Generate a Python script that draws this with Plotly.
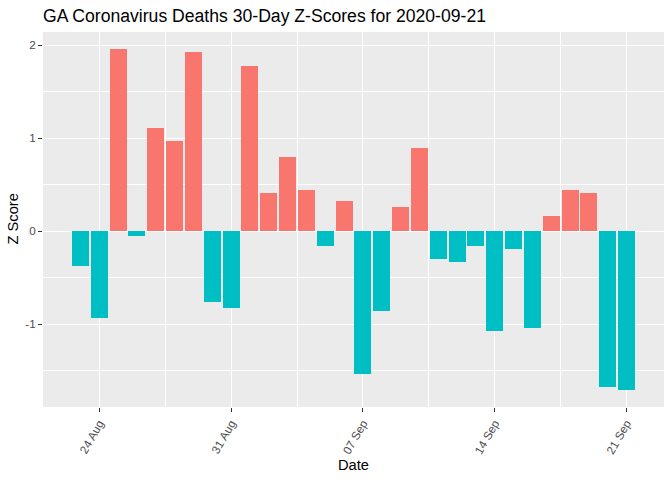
import plotly.graph_objects as go

dates = ["2020-08-23", "2020-08-24", "2020-08-25", "2020-08-26", "2020-08-27",
         "2020-08-28", "2020-08-29", "2020-08-30", "2020-08-31", "2020-09-01",
         "2020-09-02", "2020-09-03", "2020-09-04", "2020-09-05", "2020-09-06",
         "2020-09-07", "2020-09-08", "2020-09-09", "2020-09-10", "2020-09-11",
         "2020-09-12", "2020-09-13", "2020-09-14", "2020-09-15", "2020-09-16",
         "2020-09-17", "2020-09-18", "2020-09-19", "2020-09-20", "2020-09-21"]
z_scores = [-0.37, -0.93, 1.96, -0.05, 1.11,
            0.97, 1.93, -0.76, -0.83, 1.78,
            0.41, 0.80, 0.44, -0.16, 0.33,
            -1.54, -0.86, 0.26, 0.89, -0.30,
            -0.33, -0.16, -1.07, -0.19, -1.04,
            0.16, 0.44, 0.41, -1.68, -1.71]
tick_dates = ["2020-08-24", "2020-08-31", "2020-09-07", "2020-09-14", "2020-09-21"]
tick_labels = ["24 Aug", "31 Aug", "07 Sep", "14 Sep", "21 Sep"]
y_ticks = [-1, 0, 1, 2]
y_tick_labels = ["-1", "0", "1", "2"]

POS = "#F8766D"
NEG = "#00BFC4"
DAY = 86400000

colors = [POS if v > 0 else NEG for v in z_scores]

W, H = 672, 480
ML, MR, MT, MB = 43, 8, 32, 73
PW, PH = W - ML - MR, H - MT - MB

fig = go.Figure()
fig.add_trace(go.Bar(x=dates, y=z_scores, marker=dict(color=colors, line=dict(width=0)),
                     width=[0.9 * DAY] * len(dates), showlegend=False))

fig.update_layout(
    width=W, height=H,
    margin=dict(l=ML, r=MR, t=MT, b=MB, autoexpand=False),
    paper_bgcolor="white", plot_bgcolor="#EBEBEB",
    font=dict(family="Liberation Sans, Arial, sans-serif", color="black"),
    title=dict(text="GA Coronavirus Deaths 30-Day Z-Scores for 2020-09-21",
               x=ML / W, xref="container", xanchor="left",
               y=1 - 16 / H, yref="container", yanchor="middle",
               font=dict(size=17.6, color="black")),
    bargap=0,
    showlegend=False,
    annotations=[
        dict(text="Date", xref="paper", yref="paper", x=0.5, y=(H - MB - 465) / PH,
             xanchor="center", yanchor="middle", showarrow=False,
             font=dict(size=14.7, color="black")),
        dict(text="Z Score", xref="paper", yref="paper", x=(12 - ML) / PW, y=0.5,
             xanchor="center", yanchor="middle", showarrow=False, textangle=-90,
             font=dict(size=14.7, color="black")),
    ],
)
fig.update_xaxes(
    type="date", range=["2020-08-21 00:15", "2020-09-22 23:45"],
    tickvals=tick_dates, ticktext=tick_labels, tickangle=-60,
    tickfont=dict(size=11.7, color="#4D4D4D"),
    ticks="outside", ticklen=4, tickcolor="#333333", tickwidth=1,
    showgrid=True, gridcolor="white", gridwidth=1.1,
    minor=dict(dtick=3.5 * DAY, tick0="2020-08-20 12:00", showgrid=True,
               gridcolor="white", gridwidth=0.55, ticks=""),
    zeroline=False, showline=False, automargin=False,
)
fig.update_yaxes(
    range=[-1.893, 2.144], tickvals=y_ticks, ticktext=y_tick_labels,
    tickfont=dict(size=11.7, color="#4D4D4D"),
    ticks="outside", ticklen=4, tickcolor="#333333", tickwidth=1,
    showgrid=True, gridcolor="white", gridwidth=1.1,
    minor=dict(dtick=0.5, tick0=0, showgrid=True, gridcolor="white", gridwidth=0.55, ticks=""),
    zeroline=False, showline=False, automargin=False,
)

fig.write_html("out.html", config={"displayModeBar": False},
               post_script="document.body.style.margin='0';")
